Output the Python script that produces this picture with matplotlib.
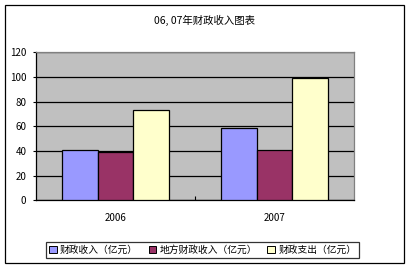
import numpy as np
import matplotlib
matplotlib.use("Agg")
import matplotlib.pyplot as plt
from matplotlib.patches import Rectangle, Patch

plt.rcParams['font.family'] = ['Noto Sans CJK SC', 'DejaVu Sans']

# --- DATA ---
years = ["2006", "2007"]
series_names = ["财政收入（亿元）", "地方财政收入（亿元）", "财政支出（亿元）"]
revenue = [41, 58.5]
local_revenue = [39.5, 40.5]
expenditure = [73, 99]
colors = ["#9999FF", "#993366", "#FFFFCC"]
title = "06, 07年财政收入图表"

W, H = 411, 269
fig = plt.figure(figsize=(W / 100, H / 100), dpi=100)
fig.patch.set_facecolor("white")

# outer chart border
fig.add_artist(Rectangle((5 / W, 6 / H), 399 / W, 258 / H, transform=fig.transFigure,
                         fill=False, edgecolor="black", lw=0.9))

# plot area in pixels: x 36..354, y 52..200 (from top)
ax = fig.add_axes([36 / W, (H - 200.3) / H, 318 / W, 147.8 / H])
ax.set_facecolor("#C0C0C0")

x = np.arange(len(years))
w = 0.2233
for i, (vals, c) in enumerate(zip([revenue, local_revenue, expenditure], colors)):
    ax.bar(x + (i - 1) * w, vals, width=w, color=c, edgecolor="black", lw=0.9, zorder=3)

ax.set_xlim(-0.5, 1.5)
ax.set_ylim(0, 120)
ax.set_yticks(range(0, 121, 20))
ax.yaxis.grid(True, color="black", lw=0.9, zorder=0)
ax.set_axisbelow(True)

ax.set_xticks(x)
ax.set_xticklabels(years)
ax.set_xticks([0.5], minor=True)
ax.tick_params(axis="x", which="major", length=0, pad=9, labelsize=7)
ax.tick_params(axis="x", which="minor", direction="in", length=3, width=0.8)
ax.tick_params(axis="y", length=2, width=0.8, pad=5, labelsize=7)

for s in ["left", "bottom"]:
    ax.spines[s].set_color("black")
    ax.spines[s].set_linewidth(0.9)
for s in ["top", "right"]:
    ax.spines[s].set_color("#808080")
    ax.spines[s].set_linewidth(0.9)

fig.text(204 / W, 1 - 20 / H, title, ha="center", va="center", fontsize=7.5)

handles = [Patch(facecolor=c, edgecolor="black", lw=0.7) for c in colors]
leg = fig.legend(handles, series_names, loc="center", bbox_to_anchor=(202.7 / W, 1 - 250 / H),
                 ncol=3, fontsize=7, frameon=True, fancybox=False, handlelength=0.8,
                 handleheight=0.8, handletextpad=0.3, columnspacing=1.1, borderpad=0.3)
leg.get_frame().set_edgecolor("black")
leg.get_frame().set_linewidth(0.9)

fig.savefig("out.png", dpi=100)
